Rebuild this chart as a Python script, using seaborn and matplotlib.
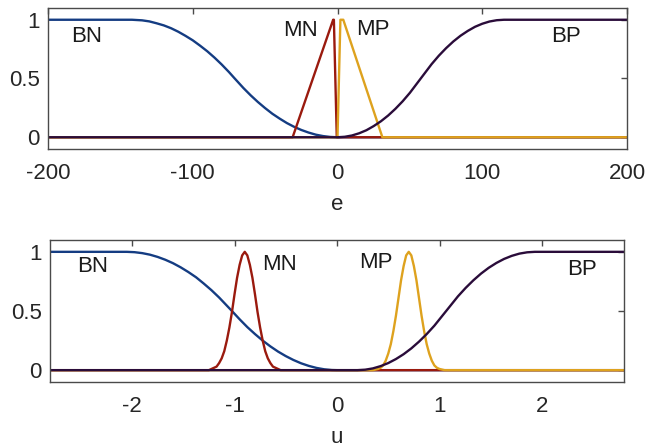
import matplotlib
matplotlib.use("Agg")
import matplotlib.pyplot as plt
import seaborn as sns
import pandas as pd

# ---------------- data ----------------
# top panel: error e
e_bn_x = [-200, -142, -135, -130, -125, -120, -115, -110, -105, -100, -95, -90, -85, -80, -75, -71,
          -65, -60, -55, -50, -45, -40, -35, -30, -25, -20, -15, -10, -5, 0, 200]
e_bn_y = [1, 1, 0.995, 0.986, 0.97, 0.952, 0.928, 0.898, 0.863, 0.825, 0.78, 0.732, 0.678, 0.619, 0.555, 0.5,
          0.419, 0.357, 0.3, 0.248, 0.2, 0.159, 0.121, 0.089, 0.062, 0.04, 0.022, 0.01, 0.0025, 0, 0]
e_mn_x = [-200, -31, -3, -2.5, -0.5, 200]
e_mn_y = [0, 0, 1, 1, 0, 0]
e_mp_x = [-200, 0, 2, 4, 31, 200]
e_mp_y = [0, 0, 1, 1, 0, 0]
e_bp_x = [-200, 0, 5, 10, 15, 20, 25, 30, 35, 40, 45, 50, 57.5, 65, 70, 75, 80, 85, 90,
          95, 100, 105, 110, 115, 200]
e_bp_y = [0, 0, 0.004, 0.015, 0.034, 0.06, 0.095, 0.136, 0.185, 0.242, 0.306, 0.378, 0.5, 0.622, 0.694,
          0.758, 0.815, 0.864, 0.905, 0.94, 0.966, 0.985, 0.996, 1, 1]

# bottom panel: control u
u_bn_x = [-2.8, -2.05, -1.975, -1.9, -1.825, -1.75, -1.675, -1.6, -1.525, -1.45, -1.375, -1.3, -1.225,
          -1.15, -1.025, -0.95, -0.875, -0.8, -0.725, -0.65, -0.575, -0.5, -0.425, -0.35, -0.275,
          -0.2, -0.125, -0.05, 0, 2.8]
u_bn_y = [1, 1, 0.997, 0.989, 0.976, 0.957, 0.933, 0.904, 0.869, 0.829, 0.785, 0.732, 0.676,
          0.614, 0.5, 0.43, 0.364, 0.305, 0.25, 0.201, 0.157, 0.119, 0.086, 0.058, 0.036,
          0.019, 0.0074, 0.0012, 0, 0]
u_mn_x = [-2.8, -1.25, -1.2, -1.175, -1.15, -1.125, -1.1, -1.075, -1.05, -1.025, -1.0, -0.975, -0.95, -0.925,
          -0.9, -0.875, -0.85, -0.825, -0.8, -0.775, -0.75, -0.725, -0.7, -0.675, -0.65, -0.625, -0.6, -0.55, 2.8]
u_mn_y = [0, 0.0, 0.02, 0.03, 0.06, 0.10, 0.16, 0.25, 0.36, 0.49, 0.64, 0.78, 0.89, 0.97,
          1.0, 0.97, 0.89, 0.78, 0.64, 0.49, 0.36, 0.25, 0.16, 0.10, 0.06, 0.03, 0.02, 0.0, 0]
u_mp_x = [-2.8, 0.35, 0.4, 0.425, 0.45, 0.475, 0.5, 0.525, 0.55, 0.575, 0.6, 0.625, 0.65, 0.675,
          0.7, 0.725, 0.75, 0.775, 0.8, 0.825, 0.85, 0.875, 0.9, 0.925, 0.95, 0.975, 1.0, 1.05, 2.8]
u_mp_y = [0, 0.0, 0.01, 0.02, 0.04, 0.08, 0.14, 0.22, 0.33, 0.46, 0.61, 0.76, 0.88, 0.97,
          1.0, 0.97, 0.88, 0.76, 0.61, 0.46, 0.33, 0.22, 0.14, 0.08, 0.04, 0.02, 0.01, 0.0, 0]
u_bp_x = [-2.8, 0.2, 0.275, 0.35, 0.425, 0.5, 0.575, 0.65, 0.725, 0.8, 0.875, 0.95, 1.065, 1.18, 1.255,
          1.33, 1.405, 1.48, 1.555, 1.63, 1.705, 1.78, 1.855, 1.93, 2.8]
u_bp_y = [0, 0, 0.004, 0.015, 0.034, 0.06, 0.094, 0.135, 0.184, 0.241, 0.305, 0.376, 0.5, 0.624, 0.695,
          0.759, 0.816, 0.865, 0.906, 0.94, 0.966, 0.985, 0.996, 1, 1]

set_names = ["BN", "MN", "MP", "BP"]
e_label_pos = [(-173, 0.86), (-25.6, 0.91), (24.6, 0.92), (157.8, 0.855)]
u_label_pos = [(-2.385, 0.873), (-0.557, 0.894), (0.38, 0.907), (2.39, 0.847)]

e_xticks = [-200, -100, 0, 100, 200]
u_xticks = [-2, -1, 0, 1, 2]
yticks = [0, 0.5, 1]
ytick_labels = ["0", "0.5", "1"]

# ---------------- style ----------------
sns.set_theme(style="white")
plt.rcParams["font.family"] = ["Liberation Sans", "DejaVu Sans"]
plt.rcParams["axes.unicode_minus"] = False

colors = ["#143c82", "#9a1a0e", "#dea21e", "#2a0c3a"]
frame_col = "#4a4a4a"
text_col = "#262626"
fs = 16

fig = plt.figure(figsize=(6.47, 4.47), dpi=100)
W, H = 647, 447


def add_axes(l, r, t, b):
    return fig.add_axes([l / W, 1 - b / H, (r - l) / W, (b - t) / H])


ax1 = add_axes(48, 627, 8, 149)
ax2 = add_axes(50, 624, 240, 382)

panels = [
    (ax1, [(e_bn_x, e_bn_y), (e_mn_x, e_mn_y), (e_mp_x, e_mp_y), (e_bp_x, e_bp_y)],
     (-200, 200), e_xticks, e_label_pos, "e"),
    (ax2, [(u_bn_x, u_bn_y), (u_mn_x, u_mn_y), (u_mp_x, u_mp_y), (u_bp_x, u_bp_y)],
     (-2.8, 2.8), u_xticks, u_label_pos, "u"),
]

for ax, curves, xlim, xt, lpos, xl in panels:
    for (xs, ys), c in zip(curves, colors):
        df = pd.DataFrame({"x": xs, "y": ys})
        sns.lineplot(data=df, x="x", y="y", ax=ax, color=c, linewidth=1.7,
                     estimator=None, sort=False)
    for name, (tx, ty) in zip(set_names, lpos):
        ax.text(tx, ty, name, ha="center", va="center", fontsize=fs, color="#1a1a1a")
    ax.set_xlim(*xlim)
    ax.set_ylim(-0.1, 1.1)
    ax.set_xticks(xt)
    ax.set_xticklabels([str(v) for v in xt])
    ax.set_yticks(yticks)
    ax.set_yticklabels(ytick_labels)
    ax.set_xlabel(xl, fontsize=fs, color=text_col, labelpad=7)
    ax.set_ylabel("")
    ax.tick_params(axis="x", pad=10)
    ax.tick_params(axis="y", pad=6)
    ax.tick_params(direction="in", top=True, right=True, length=4, width=1,
                   color=frame_col, labelsize=fs, labelcolor=text_col)
    for sp in ax.spines.values():
        sp.set_color(frame_col)
        sp.set_linewidth(1.0)

fig.savefig("out.png", dpi=100)
